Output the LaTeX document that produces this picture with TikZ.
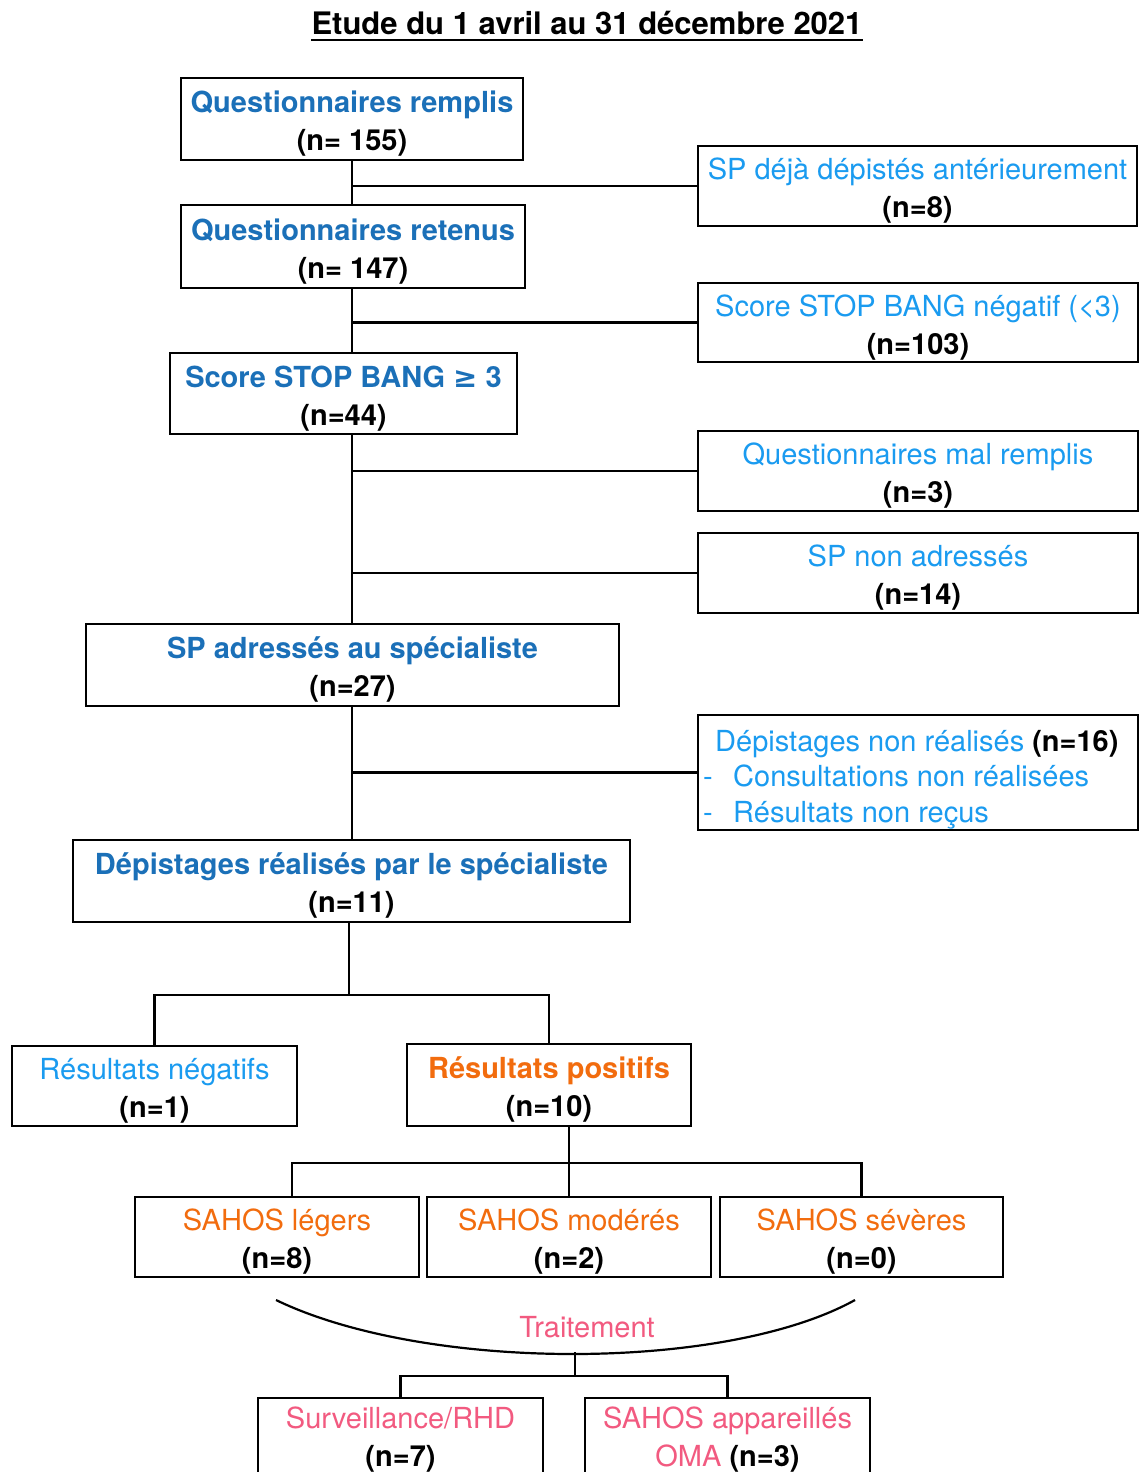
\documentclass[tikz,border=0pt]{standalone}
\usepackage{fontspec}
\setmainfont{TeX Gyre Heros}
\newfontfamily\dejavu{DejaVu Sans}
\definecolor{dblue}{HTML}{1B70B8}
\definecolor{lblue}{HTML}{1A9BF0}
\definecolor{orng}{HTML}{F26C0E}
\definecolor{pnk}{HTML}{F25A80}
\newcommand\tpstrut{\rule{0pt}{31pt}}
\newcommand\hdb[1]{\tpstrut\textcolor{dblue}{\textbf{#1}}}
\newcommand\hlb[1]{\tpstrut\textcolor{lblue}{#1}}
\newcommand\hor[1]{\tpstrut\textcolor{orng}{#1}}
\newcommand\horb[1]{\tpstrut\textcolor{orng}{\textbf{#1}}}
\newcommand\hpk[1]{\rule{0pt}{25pt}\textcolor{pnk}{#1}}
\newcommand\plb[1]{\textcolor{lblue}{#1}}
\newcommand\ppk[1]{\textcolor{pnk}{#1}}
\newcommand\nbx[1]{\textbf{#1}}
\begin{document}
\begin{tikzpicture}[x=1pt,y=-1pt,
  box/.style={draw, line width=2.6pt, inner sep=0pt, align=center, minimum height=80pt, font=\fontsize{29}{38}\selectfont},
  txt/.style={inner sep=0pt, font=\fontsize{29}{38}\selectfont},
  conn/.style={line width=2.6pt}]
\useasboundingbox (0,0) rectangle (1148,1472);
\fill[white] (0,0) rectangle (1148,1472);

% title
\node[inner sep=0pt, anchor=base, font=\fontsize{31}{36}\selectfont\bfseries] (ttl) at (587,35) {Etude du 1 avril au 31 décembre 2021};
\draw[line width=2.6pt] ([yshift=-5pt]ttl.base west) -- ([yshift=-5pt]ttl.base east);

% main column
\node[box, minimum width=342, minimum height=82] (q1) at (352,119) {\hdb{Questionnaires remplis}\\\nbx{(n= 155)}};
\node[box, minimum width=344, minimum height=83] (q2) at (353,246.5) {\hdb{Questionnaires retenus}\\\nbx{(n= 147)}};
\node[box, minimum width=347, minimum height=81] (q3) at (343.5,393.5) {\hdb{Score STOP BANG {\dejavu\bfseries ≥} 3}\\\nbx{(n=44)}};
\node[box, minimum width=533, minimum height=82] (q4) at (352.5,665) {\hdb{SP adressés au spécialiste}\\\nbx{(n=27)}};
\node[box, minimum width=557, minimum height=82] (q5) at (351.5,881) {\hdb{Dépistages réalisés par le spécialiste}\\\nbx{(n=11)}};

% side boxes
\node[box, minimum width=439] (d1) at (917.5,186) {\hlb{SP déjà dépistés antérieurement}\\\nbx{(n=8)}};
\node[box, minimum width=440, minimum height=79] (d2) at (918,322.5) {\hlb{Score STOP BANG négatif (<3)}\\\nbx{(n=103)}};
\node[box, minimum width=440] (d3) at (918,471) {\hlb{Questionnaires mal remplis}\\\nbx{(n=3)}};
\node[box, minimum width=440] (d4) at (918,573) {\hlb{SP non adressés}\\\nbx{(n=14)}};
\node[box, minimum width=440, minimum height=115] (d5) at (918,772.5) {};
\node[txt, anchor=base west] (d5a) at (715,751) {\plb{Dépistages non réalisés} \nbx{(n=16)}};
\node[txt, anchor=base west] (d5b) at (703,786) {\plb{-}};
\node[txt, anchor=base west] (d5c) at (733,786) {\plb{Consultations non réalisées}};
\node[txt, anchor=base west] (d5d) at (703,822) {\plb{-}};
\node[txt, anchor=base west] (d5e) at (733,822) {\plb{Résultats non reçus}};

% results
\node[box, minimum width=285] (neg) at (154.5,1086) {\hlb{Résultats négatifs}\\\nbx{(n=1)}};
\node[box, minimum width=284, minimum height=82] (pos) at (549,1085) {\horb{Résultats positifs}\\\nbx{(n=10)}};
\node[box, minimum width=284] (sl) at (277,1237) {\hor{SAHOS légers}\\\nbx{(n=8)}};
\node[box, minimum width=284] (sm) at (569,1237) {\hor{SAHOS modérés}\\\nbx{(n=2)}};
\node[box, minimum width=283] (sr) at (861.5,1237) {\hor{SAHOS sévères}\\\nbx{(n=0)}};

% treatment
\node[txt] (tr) at (587,1327) {\ppk{Traitement}};
\node[box, minimum width=285] (t1) at (400.5,1438) {\hpk{Surveillance/RHD}\\\nbx{(n=7)}};
\node[box, minimum width=285] (t2) at (727.5,1438) {\hpk{SAHOS appareillés}\\\ppk{OMA} \nbx{(n=3)}};

% trunk connectors
\draw[conn] (q1.south) -- (q1.south |- q2.north);
\draw[conn] (q1.south |- d1.west) -- (d1.west);
\draw[conn] (q1.south |- q2.south) -- (q1.south |- q3.north);
\draw[conn] (q1.south |- d2.west) -- (d2.west);
\draw[conn] (q1.south |- q3.south) -- (q1.south |- q4.north);
\draw[conn] (q1.south |- d3.west) -- (d3.west);
\draw[conn] (q1.south |- d4.west) -- (d4.west);
\draw[conn] (q1.south |- q4.south) -- (q1.south |- q5.north);
\draw[conn] (q1.south |- d5.west) -- (d5.west);

% split to results
\coordinate (j1) at (349,995);
\draw[conn] (q5.south -| j1) -- (j1);
\draw[conn] (neg.north) |- (j1) -| (pos.north);

% split to SAHOS
\coordinate (j2l) at (292,1163);
\draw[conn] (pos.south -| sm.north) -- (sm.north);
\draw[conn] (sl.north -| j2l) -- (j2l) -- (j2l -| sr.north) -- (sr.north);

% treatment curve
\coordinate (cl) at (276,1300);
\coordinate (cr) at (855,1300);
\coordinate (cb) at (575,1352);
\coordinate (j3) at (575,1376);
\draw[line width=2.2pt] (cl) .. controls (425,1372) and (725,1372) .. (cr);
\draw[conn] (cb) -- (j3);
\draw[conn] (t1.north) |- (j3) -| (t2.north);
\end{tikzpicture}
\end{document}
